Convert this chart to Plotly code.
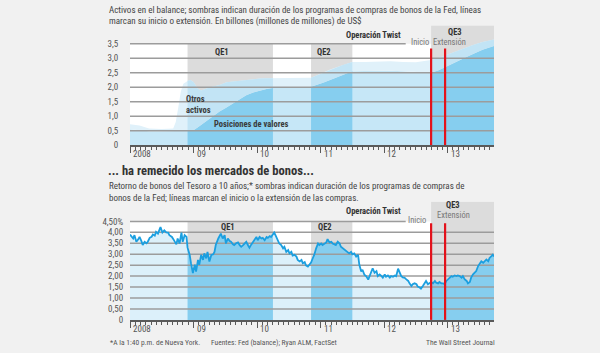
import plotly.graph_objects as go

# ---------------- data ----------------
qe_names = ["QE1", "QE2", "QE3"]
qe_starts = [2008.906, 2010.85, 2012.74]
qe_ends = [2010.25, 2011.50, 2013.73]
event_dates = [2012.74, 2012.96]          # Inicio, Extensión
x_range = [2008.0, 2013.73]
year_ticks = [2008, 2009, 2010, 2011, 2012, 2013]
year_labels = ["2008", "09", "10", "11", "12", "13"]

bal_dates = [2008.00, 2008.15, 2008.30, 2008.50, 2008.68, 2008.72, 2008.76, 2008.80, 2008.84, 2008.906,
             2008.95, 2009.00, 2009.07, 2009.12, 2009.26, 2009.41, 2009.52, 2009.62, 2009.73, 2009.83,
             2009.94, 2010.04, 2010.15, 2010.25, 2010.40, 2010.55, 2010.70, 2010.85, 2010.95, 2011.05,
             2011.15, 2011.25, 2011.35, 2011.45, 2011.50, 2011.70, 2011.90, 2012.10, 2012.30, 2012.50,
             2012.74, 2012.85, 2012.96, 2013.10, 2013.28, 2013.40, 2013.55, 2013.73]
bal_securities = [0.55, 0.52, 0.48, 0.48, 0.48, 0.48, 0.48, 0.49, 0.49, 0.49,
                  0.50, 0.52, 0.62, 0.70, 0.92, 1.16, 1.30, 1.44, 1.58, 1.72,
                  1.82, 1.89, 1.94, 1.97, 2.01, 2.03, 2.02, 2.02, 2.08, 2.16,
                  2.25, 2.34, 2.43, 2.52, 2.55, 2.56, 2.57, 2.57, 2.55, 2.53,
                  2.50, 2.58, 2.69, 2.85, 3.03, 3.15, 3.29, 3.42]
bal_total = [0.72, 0.68, 0.58, 0.56, 0.58, 0.80, 1.30, 1.85, 2.12, 2.22,
             2.25, 2.18, 1.95, 1.89, 2.00, 2.08, 2.17, 2.20, 2.23, 2.26,
             2.29, 2.30, 2.31, 2.31, 2.33, 2.32, 2.31, 2.33, 2.42, 2.52,
             2.61, 2.69, 2.77, 2.84, 2.87, 2.87, 2.89, 2.90, 2.87, 2.86,
             2.94, 3.00, 3.10, 3.22, 3.37, 3.46, 3.56, 3.65]
top_yticks = [0, 0.5, 1.0, 1.5, 2.0, 2.5, 3.0, 3.5]
top_ylabels = ["0", "0,5", "1,0", "1,5", "2,0", "2,5", "3,0", "3,5"]

yield_dates = [
    2008.00, 2008.03, 2008.05, 2008.07, 2008.10, 2008.13, 2008.15, 2008.18, 2008.20, 2008.23,
    2008.26, 2008.28, 2008.31, 2008.34, 2008.36, 2008.39, 2008.41, 2008.44, 2008.46, 2008.48,
    2008.51, 2008.54, 2008.57, 2008.60, 2008.62, 2008.66, 2008.68, 2008.70, 2008.73, 2008.75,
    2008.78, 2008.81, 2008.83, 2008.86, 2008.89, 2008.906, 2008.94, 2008.96, 2008.99, 2009.02,
    2009.04, 2009.07, 2009.09, 2009.12, 2009.15, 2009.17, 2009.20, 2009.22, 2009.25, 2009.28,
    2009.31, 2009.33, 2009.35, 2009.39, 2009.43, 2009.46, 2009.49, 2009.51, 2009.54, 2009.57,
    2009.59, 2009.62, 2009.64, 2009.67, 2009.70, 2009.73, 2009.75, 2009.78, 2009.80, 2009.83,
    2009.86, 2009.88, 2009.91, 2009.94, 2009.96, 2009.99, 2010.01, 2010.04, 2010.07, 2010.09,
    2010.12, 2010.15, 2010.17, 2010.20, 2010.22, 2010.25, 2010.27, 2010.29, 2010.31, 2010.33,
    2010.35, 2010.38, 2010.41, 2010.43, 2010.46, 2010.49, 2010.51, 2010.54, 2010.56, 2010.59,
    2010.62, 2010.64, 2010.67, 2010.70, 2010.72, 2010.75, 2010.77, 2010.80, 2010.83, 2010.85,
    2010.88, 2010.90, 2010.93, 2010.96, 2010.98, 2011.01, 2011.03, 2011.06, 2011.09, 2011.11,
    2011.14, 2011.17, 2011.19, 2011.22, 2011.24, 2011.27, 2011.30, 2011.32, 2011.35, 2011.38,
    2011.40, 2011.43, 2011.45, 2011.48, 2011.50, 2011.53, 2011.56, 2011.59, 2011.61, 2011.64,
    2011.66, 2011.69, 2011.72, 2011.75, 2011.77, 2011.80, 2011.82, 2011.85, 2011.88, 2011.90,
    2011.93, 2011.96, 2011.98, 2012.01, 2012.03, 2012.06, 2012.09, 2012.11, 2012.14, 2012.17,
    2012.19, 2012.22, 2012.24, 2012.27, 2012.30, 2012.32, 2012.35, 2012.38, 2012.40, 2012.43,
    2012.45, 2012.48, 2012.51, 2012.53, 2012.56, 2012.58, 2012.61, 2012.64, 2012.66, 2012.69,
    2012.72, 2012.74, 2012.77, 2012.80, 2012.82, 2012.85, 2012.87, 2012.90, 2012.93, 2012.95,
    2012.98, 2013.01, 2013.03, 2013.06, 2013.08, 2013.11, 2013.14, 2013.16, 2013.19, 2013.22,
    2013.24, 2013.27, 2013.30, 2013.32, 2013.35, 2013.37, 2013.40, 2013.43, 2013.45, 2013.48,
    2013.51, 2013.53, 2013.56, 2013.59, 2013.61, 2013.64, 2013.66, 2013.69, 2013.71, 2013.73]
yield_values = [
    3.90, 3.80, 3.72, 3.87, 3.57, 3.68, 3.79, 3.60, 3.42, 3.57,
    3.50, 3.57, 3.75, 3.80, 3.90, 3.85, 4.02, 3.94, 4.10, 4.24,
    3.99, 4.09, 4.00, 3.99, 3.87, 3.79, 3.70, 3.57, 3.45, 3.72,
    3.49, 3.99, 3.57, 3.87, 3.79, 3.30, 2.97, 2.59, 2.14, 2.52,
    2.21, 2.74, 2.52, 2.97, 2.74, 3.04, 2.81, 3.11, 2.67, 2.97,
    3.00, 3.11, 3.42, 3.72, 3.94, 3.72, 3.87, 3.49, 3.72, 3.60,
    3.57, 3.45, 3.42, 3.50, 3.54, 3.40, 3.34, 3.42, 3.49, 3.57,
    3.40, 3.30, 3.45, 3.57, 3.70, 3.79, 3.64, 3.79, 3.72, 3.75,
    3.64, 3.79, 3.75, 3.83, 3.79, 3.90, 3.99, 3.87, 3.75, 3.64,
    3.49, 3.42, 3.27, 3.34, 3.11, 3.19, 3.04, 3.11, 2.94, 2.97,
    2.89, 2.74, 2.67, 2.74, 2.59, 2.64, 2.49, 2.44, 2.54, 2.62,
    2.84, 2.97, 3.27, 3.49, 3.42, 3.49, 3.42, 3.49, 3.54, 3.69,
    3.54, 3.57, 3.49, 3.45, 3.42, 3.57, 3.49, 3.34, 3.27, 3.19,
    3.15, 3.11, 3.04, 3.11, 3.00, 3.04, 2.89, 2.97, 2.52, 2.21,
    2.29, 2.06, 1.99, 1.84, 1.99, 2.21, 2.36, 2.15, 2.23, 2.00,
    2.08, 2.00, 1.93, 2.08, 1.97, 2.03, 1.93, 2.00, 1.97, 2.03,
    2.00, 2.34, 2.23, 2.00, 1.93, 1.93, 1.85, 1.78, 1.67, 1.55,
    1.63, 1.67, 1.63, 1.52, 1.48, 1.43, 1.55, 1.67, 1.78, 1.63,
    1.67, 1.73, 1.67, 1.78, 1.70, 1.67, 1.73, 1.67, 1.67, 1.63,
    1.78, 1.85, 1.93, 2.00, 1.97, 2.03, 2.00, 2.03, 2.00, 1.93,
    2.00, 1.85, 1.78, 1.67, 1.73, 1.93, 2.08, 2.16, 2.23, 2.46,
    2.61, 2.68, 2.61, 2.68, 2.76, 2.68, 2.83, 2.91, 2.98, 2.90]
bot_yticks = [0, 0.5, 1.0, 1.5, 2.0, 2.5, 3.0, 3.5, 4.0, 4.5]
bot_ylabels = ["0", "0,50", "1,00", "1,50", "2,00", "2,50", "3,00", "3,50", "4,00", "4,50%"]

# ---------------- style ----------------
FONT = "Roboto Condensed, DejaVu Sans Condensed, Liberation Sans Narrow, Roboto, sans-serif"
BG = "#f1f1f1"
QE_GRAY = "#dcdcdc"
GRID = "#9c9c9c"
AXIS = "#5a5a5a"
SEC_DARK, OTH_DARK = "#86ceef", "#c2e4f5"
SEC_LIGHT, OTH_LIGHT = "#c6e7f7", "#e0f1fa"
YLD_DARK, YLD_LIGHT = "#86ceef", "#dcf0fa"
YLD_LINE = "#1b9fe0"
RED = "#e3121b"
TWIST_CUT = 2012.34   # top gridline stops before the "Inicio" label

TOP_RANGE = [0, 4.13]
BOT_RANGE = [0, 5.4]

fig = go.Figure()


def seg(t, vals, a, b):
    idx = [i for i, v in enumerate(t) if a - 1e-9 <= v <= b + 1e-9]
    return [t[i] for i in idx], [vals[i] for i in idx]


def add_stack(xs, sec, tot, csec, coth):
    fig.add_trace(go.Scatter(x=xs, y=sec, fill="tozeroy", fillcolor=csec, mode="lines",
                             line=dict(width=0), hoverinfo="skip", showlegend=False,
                             xaxis="x", yaxis="y"))
    fig.add_trace(go.Scatter(x=xs, y=tot, fill="tonexty", fillcolor=coth, mode="lines",
                             line=dict(width=0), hoverinfo="skip", showlegend=False,
                             xaxis="x", yaxis="y"))


# --- top chart fills
add_stack(bal_dates, bal_securities, bal_total, SEC_LIGHT, OTH_LIGHT)
for a, b in zip(qe_starts, qe_ends):
    xs, s = seg(bal_dates, bal_securities, a, b)
    _, tt = seg(bal_dates, bal_total, a, b)
    add_stack(xs, s, tt, SEC_DARK, OTH_DARK)

# --- bottom chart fills
fig.add_trace(go.Scatter(x=yield_dates, y=yield_values, fill="tozeroy", fillcolor=YLD_LIGHT,
                         mode="lines", line=dict(width=0), hoverinfo="skip", showlegend=False,
                         xaxis="x2", yaxis="y2"))
for a, b in zip(qe_starts, qe_ends):
    xs, v = seg(yield_dates, yield_values, a, b)
    fig.add_trace(go.Scatter(x=xs, y=v, fill="tozeroy", fillcolor=YLD_DARK, mode="lines",
                             line=dict(width=0), hoverinfo="skip", showlegend=False,
                             xaxis="x2", yaxis="y2"))


def gridlines(ticks, xa, ya):
    gx, gy = [], []
    for v in ticks[1:]:
        x1 = TWIST_CUT if v == ticks[-1] else x_range[1]
        gx += [x_range[0], x1, None]
        gy += [v, v, None]
    fig.add_trace(go.Scatter(x=gx, y=gy, mode="lines", line=dict(color=GRID, width=1.5),
                             hoverinfo="skip", showlegend=False, xaxis=xa, yaxis=ya))


gridlines(top_yticks, "x", "y")
gridlines(bot_yticks, "x2", "y2")

fig.add_trace(go.Scatter(x=yield_dates, y=yield_values, mode="lines",
                         line=dict(color=YLD_LINE, width=1.8), hoverinfo="skip",
                         showlegend=False, xaxis="x2", yaxis="y2"))

# red event lines
for xa, ya, top in (("x", "y", 3.34), ("x2", "y2", 4.42)):
    rx, ry = [], []
    for d in event_dates:
        rx += [d, d, None]
        ry += [0, top, None]
    fig.add_trace(go.Scatter(x=rx, y=ry, mode="lines", line=dict(color=RED, width=2.2),
                             hoverinfo="skip", showlegend=False, xaxis=xa, yaxis=ya))

# ---------------- shapes ----------------
shapes = []
for xr, yr, ytop, hdr in (("x", "y", top_yticks[-1], TOP_RANGE[1]),
                          ("x2", "y2", bot_yticks[-1], BOT_RANGE[1])):
    shapes.append(dict(type="rect", xref=xr, yref=yr, x0=x_range[0], x1=x_range[1],
                       y0=0, y1=ytop, fillcolor="white", line=dict(width=0), layer="below"))
    for name, a, b in zip(qe_names, qe_starts, qe_ends):
        y1 = hdr if name == "QE3" else ytop
        shapes.append(dict(type="rect", xref=xr, yref=yr, x0=a, x1=b, y0=0, y1=y1,
                           fillcolor=QE_GRAY, line=dict(width=0), layer="below"))

# ---------------- annotations ----------------
ann = []


def txt(x, y, s, size=10, color="#444", xref="paper", yref="paper", xanchor="left",
        yanchor="middle", bold=False, xshift=0, yshift=0):
    ann.append(dict(x=x, y=y, xref=xref, yref=yref, text=("<b>%s</b>" % s) if bold else s,
                    showarrow=False, xanchor=xanchor, yanchor=yanchor, xshift=xshift,
                    yshift=yshift, borderpad=0,
                    font=dict(family=FONT, size=size, color=color)))


def py(p):  # pixel y -> paper
    return 1 - p / 353.0


def px(p):
    return p / 600.0


SUB = 9
txt(px(108), py(10), "Activos en el balance; sombras indican duración de los programas de compras de bonos de la Fed, líneas", size=SUB)
txt(px(108), py(22), "marcan su inicio o extensión. En billones (millones de millones) de US$", size=SUB)
txt(px(107), py(173), "... ha remecido los mercados de bonos...", size=12.6, color="#333", bold=True)
txt(px(108), py(189), "Retorno de bonos del Tesoro a 10 años;* sombras indican duración de los programas de compras de", size=SUB)
txt(px(108), py(201), "bonos de la Fed; líneas marcan el inicio o la extensión de las compras.", size=SUB)
txt(px(109), py(347), "*A la 1:40 p.m. de Nueva York.", size=7.5, color="#555")
txt(px(210), py(347), "Fuentes: Fed (balance); Ryan ALM, FactSet", size=7.5, color="#555")
txt(px(496), py(347), "The Wall Street Journal", size=7.5, color="#555", xanchor="right")

# year labels under both axes
for xr, yr in (("x", "y domain"), ("x2", "y2 domain")):
    for t, lab in zip(year_ticks, year_labels):
        txt(t, 0, lab, size=9, color="#555", xref=xr, yref=yr, yanchor="top",
            xshift=2, yshift=-3)

LBL = 8.5
# top chart labels
txt(2009.45, 3.21, "QE1", size=LBL, color="#333", xref="x", yref="y", xanchor="center", bold=True)
txt(2011.06, 3.21, "QE2", size=LBL, color="#333", xref="x", yref="y", xanchor="center", bold=True)
txt(2013.11, 3.92, "QE3", size=LBL, color="#333", xref="x", yref="y", xanchor="center", bold=True)
txt(2011.83, 3.80, "Operación Twist", size=LBL, color="#333", xref="x", yref="y", xanchor="center", bold=True)
txt(event_dates[0], 3.57, "Inicio", size=LBL, color="#777", xref="x", yref="y", xanchor="right", xshift=-1)
txt(event_dates[0], 3.57, "Extensión", size=LBL, color="#777", xref="x", yref="y", xanchor="left", xshift=1)
txt(2008.86, 1.61, "Otros", size=LBL, color="#3a3a3a", xref="x", yref="y", bold=True)
txt(2008.86, 1.23, "activos", size=LBL, color="#3a3a3a", xref="x", yref="y", bold=True)
txt(2009.30, 0.72, "Posiciones de valores", size=LBL, color="#3a3a3a", xref="x", yref="y", bold=True)

# bottom chart labels
txt(2009.55, 4.26, "QE1", size=LBL, color="#333", xref="x2", yref="y2", xanchor="center", bold=True)
txt(2011.07, 4.26, "QE2", size=LBL, color="#333", xref="x2", yref="y2", xanchor="center", bold=True)
txt(2013.09, 5.24, "QE3", size=LBL, color="#333", xref="x2", yref="y2", xanchor="center", bold=True)
txt(2013.10, 4.81, "Extensión", size=LBL, color="#777", xref="x2", yref="y2", xanchor="center")
txt(event_dates[0], 4.56, "Inicio", size=LBL, color="#777", xref="x2", yref="y2", xanchor="right", xshift=-4)
txt(2011.84, 4.98, "Operación Twist", size=LBL, color="#333", xref="x2", yref="y2", xanchor="center", bold=True)

# ---------------- axes ----------------
xdom = [130 / 600, 494 / 600]


def xaxis(anchor):
    return dict(domain=xdom, range=x_range, anchor=anchor, showgrid=False, zeroline=False,
                showline=True, linecolor=AXIS, linewidth=1.5, tickmode="linear", tick0=2008,
                dtick=1, ticks="outside", ticklen=6, tickwidth=1, tickcolor=AXIS,
                showticklabels=False,
                minor=dict(ticks="outside", ticklen=3, tickwidth=1, tickcolor=AXIS,
                           tick0=2008, dtick=1 / 12, showgrid=False))


def yaxis(anchor, dom, rng, vals, labs, tlen):
    return dict(domain=dom, range=rng, anchor=anchor, showgrid=False, zeroline=False,
                showline=False, tickmode="array", tickvals=vals, ticktext=labs,
                ticks="outside", ticklen=tlen, tickcolor="rgba(0,0,0,0)",
                tickfont=dict(family=FONT, size=9, color="#555"))


fig.update_layout(
    width=600, height=353,
    margin=dict(l=0, r=0, t=0, b=0),
    paper_bgcolor=BG, plot_bgcolor=BG,
    xaxis=xaxis("y"),
    yaxis=yaxis("x", [py(147.3), py(25.9)], TOP_RANGE, top_yticks, top_ylabels, 9),
    xaxis2=xaxis("y2"),
    yaxis2=yaxis("x2", [py(324.5), py(204.6)], BOT_RANGE, bot_yticks, bot_ylabels, 4),
    shapes=shapes,
    annotations=ann,
    showlegend=False,
    font=dict(family=FONT),
)

fig.write_html("out.html")
